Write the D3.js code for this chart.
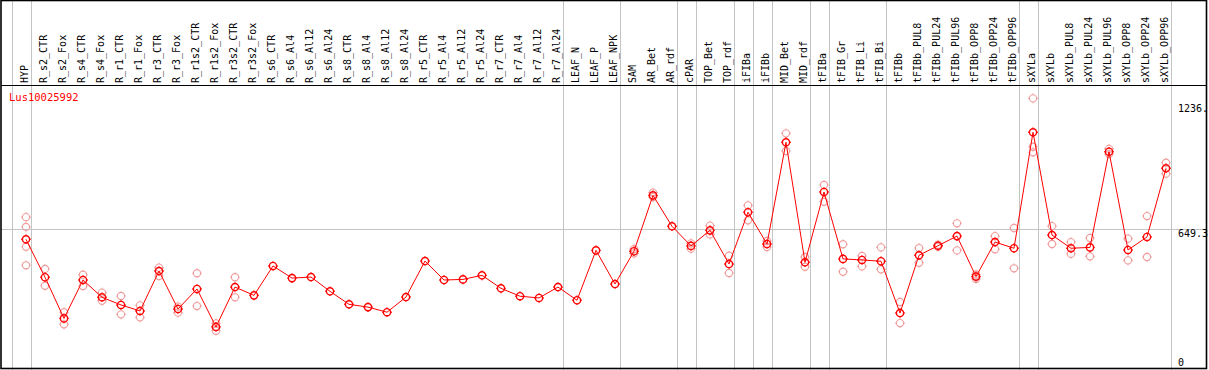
<!DOCTYPE html>
<html>
<head>
  <meta charset="UTF-8">
  <style>
    body { margin: 0; background: #fff; }
    svg { display: block; }
  </style>
</head>
<body>
<svg></svg>
<script src="https://d3js.org/d3.v7.min.js"></script>
<script>

let width = 1209, height = 370;

// sample names, one column each
let samples = ["HYP", "R_s2_CTR", "R_s2_Fox", "R_s4_CTR", "R_s4_Fox", "R_r1_CTR", "R_r1_Fox",
  "R_r3_CTR", "R_r3_Fox", "R_r1s2_CTR", "R_r1s2_Fox", "R_r3s2_CTR", "R_r3s2_Fox",
  "R_s6_CTR", "R_s6_Al4", "R_s6_Al12", "R_s6_Al24", "R_s8_CTR", "R_s8_Al4", "R_s8_Al12", "R_s8_Al24",
  "R_r5_CTR", "R_r5_Al4", "R_r5_Al12", "R_r5_Al24", "R_r7_CTR", "R_r7_Al4", "R_r7_Al12", "R_r7_Al24",
  "LEAF_N", "LEAF_P", "LEAF_NPK", "SAM", "AR_Bet", "AR_rdf", "cPAR", "TOP_Bet", "TOP_rdf",
  "iFIBa", "iFIBb", "MID_Bet", "MID_rdf", "tFIBa", "tFIB_Gr", "tFIB_Li", "tFIB_Bi",
  "tFIBb", "tFIBb_PUL8", "tFIBb_PUL24", "tFIBb_PUL96", "tFIBb_OPP8", "tFIBb_OPP24", "tFIBb_OPP96",
  "sXYLa", "sXYLb", "sXYLb_PUL8", "sXYLb_PUL24", "sXYLb_PUL96", "sXYLb_OPP8", "sXYLb_OPP24", "sXYLb_OPP96"];

// first sample of every tissue group
let groupStarts = ["HYP", "R_s2_CTR", "LEAF_N", "SAM", "cPAR", "TOP_Bet", "iFIBa", "iFIBb",
  "MID_Bet", "tFIBa", "tFIB_Gr", "tFIBb", "sXYLa", "sXYLb"];

// mean expression
let means = [599, 421, 228, 408, 327, 291, 263, 450, 272, 366, 188, 375, 336,
  474, 417, 422, 355, 294, 281, 257, 328, 497, 408, 411, 430, 369, 332, 324, 375,
  313, 547, 389, 543, 805, 660, 568, 641, 483, 726, 577, 1054, 491, 821, 507, 502, 496,
  253, 524, 569, 614, 424, 586, 557, 1101, 619, 557, 561, 1010, 549, 610, 932];

// replicate values
let replicates = [
  [703, 657, 564, 477], [460, 381], [257, 200], [433, 380], [349, 311], [333, 247], [289, 233],
  [466, 427], [283, 255], [440, 286], [205, 170], [421, 327], [],
  [], [], [], [], [], [], [], [], [], [], [], [], [], [], [], [],
  [], [], [], [533, 553], [818, 797], [], [555, 580], [663, 622], [522, 441],
  [758, 688], [563, 591], [1096, 1013], [516, 470], [854, 775], [576, 447], [521, 472], [561, 458],
  [305, 206], [558, 489], [574, 564], [674, 547], [434, 413], [614, 552], [652, 463],
  [1260, 1033, 1007], [661, 577], [586, 531], [605, 519], [1023, 999], [602, 500], [708, 516], [958, 907]];

let geneName = "Lus10025992";
let tickValues = [1236, 649.3, 0];
let tickLabels = ["1236.", "649.3", "0"];
let midValue = 649.3;

let svg = d3.select("svg")
  .attr("width", width)
  .attr("height", height)
  .attr("viewBox", "0 0 " + width + " " + height);

let x = d3.scalePoint().domain(samples).range([26, 1166]);
let y = d3.scaleLinear().domain([0, 1236]).range([367, 103.5]);
let step = x.step();

// group separators
let bounds = groupStarts.map(s => Math.round(x(s) - step + 4.5) + 0.5);
bounds.push(Math.round(x(samples[samples.length - 1]) + 4.5) + 0.5);

svg.append("g")
  .selectAll("line")
  .data(bounds)
  .enter()
  .append("line")
  .attr("x1", d => d).attr("x2", d => d)
  .attr("y1", 0).attr("y2", height)
  .attr("stroke", "#c4c4c4")
  .attr("stroke-width", 1);

svg.append("line")
  .attr("x1", 1).attr("x2", 1206)
  .attr("y1", Math.round(y(midValue)) + 0.5).attr("y2", Math.round(y(midValue)) + 0.5)
  .attr("stroke", "#c4c4c4");

// header labels
svg.append("g")
  .selectAll("text")
  .data(samples)
  .enter()
  .append("text")
  .attr("transform", d => "translate(" + (x(d) + 1.5) + ",83) rotate(-90)")
  .attr("font-family", "DejaVu Sans Mono")
  .attr("font-size", "10px")
  .attr("fill", "black")
  .text(d => d);

svg.append("line")
  .attr("x1", 1).attr("x2", 1206)
  .attr("y1", 85.5).attr("y2", 85.5)
  .attr("stroke", "black");

svg.append("text")
  .attr("x", 9).attr("y", 101)
  .attr("font-family", "DejaVu Sans Mono")
  .attr("font-size", "10.5px")
  .attr("fill", "red")
  .text(geneName);

// right side value labels
let axis = d3.axisRight(y)
  .tickValues(tickValues)
  .tickFormat((d, i) => tickLabels[i])
  .tickSize(0);

let axisG = svg.append("g")
  .attr("transform", "translate(1175,0)")
  .call(axis);
axisG.select(".domain").remove();
axisG.selectAll("text")
  .attr("font-family", "DejaVu Sans Mono")
  .attr("font-size", "10px")
  .attr("fill", "black")
  .attr("x", 3)
  .attr("dy", (d) => d === 0 ? "-0.2em" : "0.78em");

// markers: circle with four little ticks
function marker(r) {
  let t = r + 1.2;
  return "M" + (-r) + ",0A" + r + "," + r + " 0 1,0 " + r + ",0A" + r + "," + r + " 0 1,0 " + (-r) + ",0" +
    "M0," + (-r) + "V" + (-t) + "M0," + r + "V" + t +
    "M" + (-r) + ",0H" + (-t) + "M" + r + ",0H" + t;
}

let repPoints = [];
replicates.forEach((reps, i) => reps.forEach(v => repPoints.push({ s: samples[i], v: v })));

svg.append("g")
  .selectAll("path")
  .data(repPoints)
  .enter()
  .append("path")
  .attr("d", marker(3.6))
  .attr("transform", d => "translate(" + x(d.s) + "," + y(d.v) + ")")
  .attr("fill", "none")
  .attr("stroke", "#f09c9c")
  .attr("stroke-width", 1.1);

let line = d3.line()
  .x((d, i) => x(samples[i]))
  .y(d => y(d));

svg.append("path")
  .datum(means)
  .attr("d", line)
  .attr("fill", "none")
  .attr("stroke", "red")
  .attr("stroke-width", 1);

svg.append("g")
  .selectAll("path")
  .data(means)
  .enter()
  .append("path")
  .attr("d", marker(3.6))
  .attr("transform", (d, i) => "translate(" + x(samples[i]) + "," + y(d) + ")")
  .attr("fill", "none")
  .attr("stroke", "red")
  .attr("stroke-width", 1.4);

// frame
svg.append("rect")
  .attr("x", 1).attr("y", 0.5)
  .attr("width", 1205.5).attr("height", 368)
  .attr("fill", "none")
  .attr("stroke", "black")
  .attr("stroke-width", 1.6);

</script>
</body>
</html>
